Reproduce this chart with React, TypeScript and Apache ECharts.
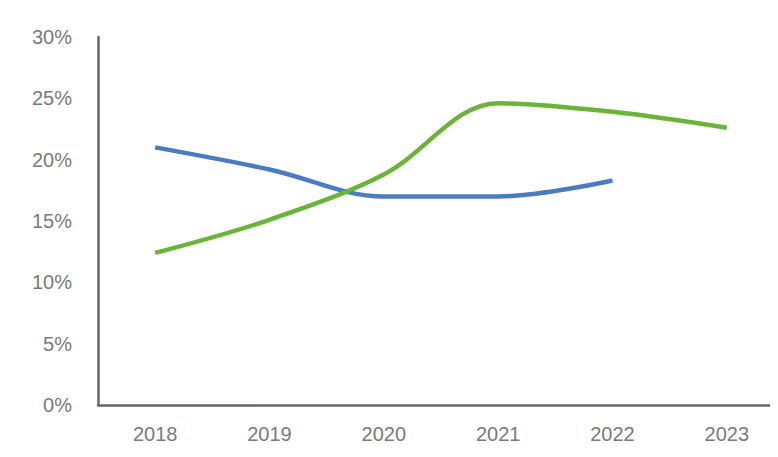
import React, { useEffect, useRef } from "react";
import * as echarts from "echarts";

const years = ["2018", "2019", "2020", "2021", "2022", "2023"];
const blueSeries = [21.0, 19.2, 17.0, 17.0, 18.3, null];
const greenSeries = [12.4, 15.1, 18.8, 24.6, 23.9, 22.6];

export default function App() {
  const ref = useRef<HTMLDivElement>(null);
  useEffect(() => {
    const chart = echarts.init(ref.current!, undefined, { renderer: "svg" });
    chart.setOption({
      animation: false,
      backgroundColor: "#ffffff",
      grid: { left: 98, right: 0, top: 37, bottom: 52 },
      xAxis: {
        type: "category",
        data: years,
        boundaryGap: true,
        axisLine: { lineStyle: { color: "#666", width: 2.5 } },
        axisTick: { show: false },
        axisLabel: { color: "#7a7a7a", fontSize: 20, fontFamily: "Liberation Sans", margin: 19 },
      },
      yAxis: {
        type: "value",
        min: 0,
        max: 30,
        interval: 5,
        axisLine: { show: true, lineStyle: { color: "#666", width: 2.5 } },
        axisTick: { show: false },
        splitLine: { show: false },
        axisLabel: {
          color: "#7a7a7a",
          fontSize: 20,
          fontFamily: "Liberation Sans",
          margin: 26,
          formatter: "{value}%",
        },
      },
      series: [
        {
          type: "line",
          data: blueSeries,
          smooth: 0.35,
          showSymbol: false,
          lineStyle: { color: "#4a7cc2", width: 4.5 },
        },
        {
          type: "line",
          data: greenSeries,
          smooth: 0.35,
          showSymbol: false,
          lineStyle: { color: "#6ab43a", width: 4.5 },
        },
      ],
    });
    return () => chart.dispose();
  }, []);
  return (
    <div style={{ width: 778, height: 457, margin: -8, overflow: "hidden" }}>
      <div ref={ref} style={{ width: 784, height: 457 }} />
    </div>
  );
}
